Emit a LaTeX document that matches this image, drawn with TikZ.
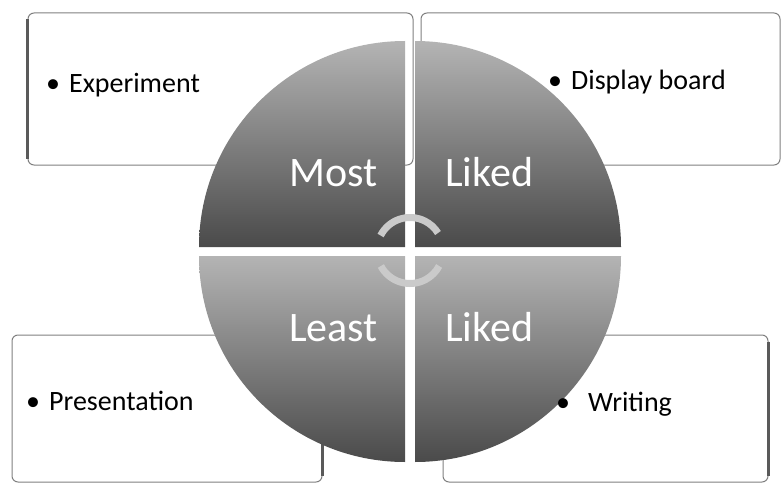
\documentclass[tikz,border=0pt]{standalone}
\usepackage{fontspec}
\setmainfont{Carlito}
\definecolor{qtop}{HTML}{B4B4B4}
\definecolor{qbot}{HTML}{4A4A4A}
\definecolor{rim}{HTML}{808080}
\definecolor{rimdark}{HTML}{5A5A5A}
\definecolor{ringgray}{HTML}{CACACA}
\begin{document}
\begin{tikzpicture}[x=1pt,y=1pt,
  panel/.style={draw=rim, line width=1pt, fill=white, rounded corners=6pt, inner sep=0pt},
  sideedge/.style={draw=rimdark, line width=2.6pt},
  quarter/.style={top color=qtop, bottom color=qbot, draw=none},
  item/.style={inner sep=0pt, anchor=base west, font=\fontsize{28}{32}\selectfont, text=black},
  biglabel/.style={inner sep=0pt, font=\fontsize{42}{48}\selectfont, text=white},
  ring/.style={draw=ringgray, line width=7pt}]
\useasboundingbox (0,0) rectangle (781,483);

% outer text panels
\node[panel, minimum width=385pt, minimum height=152pt] (tlbox) at (220.5,394) {};
\node[panel, minimum width=359pt, minimum height=152pt] (trbox) at (600.5,394) {};
\node[panel, minimum width=310pt, minimum height=147pt] (blbox) at (167,74.5) {};
\node[panel, minimum width=325pt, minimum height=147pt] (brbox) at (605.5,74.5) {};

% heavier outer edges of the panels
\draw[sideedge] ([yshift=-7pt]tlbox.north west) -- ([yshift=7pt]tlbox.south west);
\draw[sideedge] ([yshift=-30pt]blbox.north east) -- ([yshift=7pt]blbox.south east);
\draw[sideedge] ([yshift=-7pt]brbox.north east) -- ([yshift=7pt]brbox.south east);

% four quarter discs
\path[quarter] (405,236) -- (199,236) arc (180:90:206) -- cycle;
\path[quarter] (415,236) -- (415,442) arc (90:0:206) -- cycle;
\path[quarter] (405,227) -- (199,227) arc (180:270:206) -- cycle;
\path[quarter] (415,227) -- (621,227) arc (0:-90:206) -- cycle;

% quadrant labels
\node[biglabel, anchor=base east] (most)   at (378,296.3) {Most};
\node[biglabel, anchor=base west] (liked1) at (445,296.3) {Liked};
\node[biglabel, anchor=base east] (least)  at (378,141.3) {Least};
\node[biglabel, anchor=base west] (liked2) at (445,141.3) {Liked};

% cycle arcs at the hub
\coordinate (hub) at (410,232.5);
\draw[ring] ([shift={(153:33)}]hub) arc (153:32:33);
\draw[ring] ([shift={(208:33)}]hub) arc (208:332:33);

% bullet items
\node[item] (t1) at (46,390.3) {•\hspace{9pt}Experiment};
\node[item] (t2) at (548,393) {•\hspace{9pt}Display board};
\node[item] (t3) at (26,73) {•\hspace{9pt}Presentation};
\node[item] (t4) at (556,71.3) {•\hspace{18pt}Writing};
\end{tikzpicture}
\end{document}
